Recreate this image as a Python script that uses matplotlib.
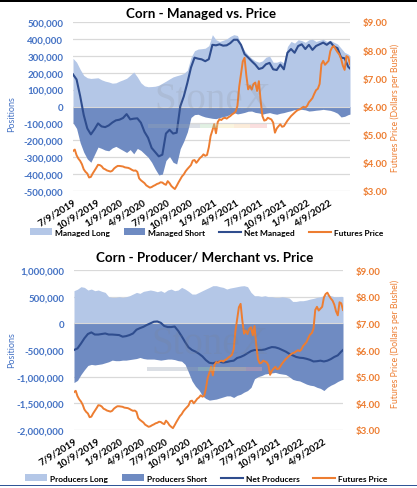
import matplotlib
matplotlib.use('Agg')
import matplotlib.pyplot as plt
from matplotlib.ticker import FuncFormatter, MultipleLocator
from matplotlib.patches import Patch, Rectangle
from matplotlib.lines import Line2D
import pandas as pd

plt.rcParams['font.family'] = ['Lato', 'DejaVu Sans']
plt.rcParams['font.weight'] = 'bold'

# weekly COT report dates, positions read every other week
weeks = pd.date_range('2019-07-09', '2022-06-28', freq='7D')
pos_dates = weeks[list(range(0, 156, 2)) + [155]]

tick_labels = ['7/9/2019', '10/9/2019', '1/9/2020', '4/9/2020', '7/9/2020', '10/9/2020',
               '1/9/2021', '4/9/2021', '7/9/2021', '10/9/2021', '1/9/2022', '4/9/2022']

# corn futures, $/bu
futures_price = [
    4.42, 4.47, 4.27, 4.15, 4.07, 3.95, 3.77, 3.68, 3.62, 3.48,
    3.50, 3.62, 3.72, 3.82, 3.93, 3.92, 3.88, 3.80, 3.77, 3.73,
    3.71, 3.69, 3.72, 3.80, 3.85, 3.89, 3.89, 3.88, 3.87, 3.84,
    3.83, 3.82, 3.79, 3.75, 3.72, 3.73, 3.68, 3.45, 3.38, 3.33,
    3.28, 3.20, 3.16, 3.12, 3.14, 3.18, 3.21, 3.25, 3.27, 3.31,
    3.30, 3.25, 3.22, 3.35, 3.28, 3.18, 3.12, 3.07, 3.18, 3.30,
    3.41, 3.52, 3.59, 3.70, 3.78, 3.85, 3.92, 4.08, 4.10, 4.00,
    4.08, 4.17, 4.22, 4.30, 4.25, 4.28, 4.55, 4.95, 5.15, 5.37,
    5.05, 5.45, 5.55, 5.52, 5.58, 5.60, 5.57, 5.62, 5.66, 5.72,
    5.76, 5.82, 6.02, 6.70, 7.15, 7.60, 7.73, 7.10, 6.61, 6.73,
    6.60, 6.80, 6.85, 6.55, 6.90, 6.20, 5.66, 5.50, 5.52, 5.60,
    5.57, 5.54, 5.43, 5.07, 5.22, 5.30, 5.37, 5.28, 5.30, 5.40,
    5.50, 5.58, 5.66, 5.72, 5.78, 5.84, 5.88, 5.90, 5.95, 5.99,
    5.96, 6.02, 6.15, 6.22, 6.30, 6.45, 6.58, 6.63, 6.80, 7.50,
    7.62, 7.48, 7.55, 7.62, 7.97, 8.10, 8.15, 8.03, 7.93, 7.85,
    7.70, 7.45, 7.30, 7.79, 7.75, 7.50]

# positions in thousands of contracts
managed_long = [
    285, 262, 220, 184, 170, 166, 168, 170, 158, 150,
    145, 138, 140, 150, 158, 167, 185, 204, 175, 140,
    122, 117, 118, 120, 126, 138, 150, 163, 175, 182,
    188, 196, 215, 290, 330, 340, 342, 345, 360, 425,
    395, 385, 392, 400, 415, 425, 420, 370, 330, 305,
    285, 270, 262, 270, 292, 298, 262, 262, 270, 258,
    355, 385, 375, 395, 390, 380, 395, 398, 385, 392,
    398, 385, 392, 380, 370, 345, 320, 310, 300]
managed_short = [
    -96, -130, -214, -270, -310, -330, -285, -240, -248, -258,
    -262, -245, -236, -248, -260, -272, -255, -280, -248, -260,
    -280, -300, -330, -370, -405, -400, -320, -295, -330, -340,
    -250, -205, -150, -65, -48, -46, -55, -62, -66, -70,
    -72, -66, -60, -56, -45, -36, -44, -40, -35, -28,
    -27, -35, -38, -45, -40, -36, -42, -46, -40, -36,
    -30, -25, -18, -17, -17, -20, -27, -25, -22, -20,
    -17, -20, -23, -30, -40, -62, -58, -48, -45]
net_managed = [
    190, 160, 62, -50, -130, -165, -135, -100, -118, -122,
    -112, -95, -82, -78, -68, -45, -76, -72, -70, -96,
    -150, -185, -245, -270, -295, -285, -160, -138, -160, -155,
    0, 60, 140, 230, 289, 283, 279, 268, 280, 365,
    362, 368, 360, 362, 375, 395, 395, 365, 310, 290,
    268, 248, 222, 228, 250, 258, 220, 216, 248, 220,
    318, 340, 318, 358, 368, 340, 365, 335, 358, 368,
    378, 365, 381, 355, 345, 290, 285, 235, 225]

producers_long = [
    612, 640, 687, 674, 625, 643, 612, 625, 600, 580,
    499, 487, 487, 499, 487, 499, 518, 549, 580, 562,
    600, 612, 625, 612, 593, 612, 580, 625, 643, 612,
    625, 674, 643, 600, 549, 549, 580, 612, 643, 674,
    706, 706, 687, 674, 643, 662, 674, 687, 700, 706,
    687, 580, 518, 518, 505, 518, 499, 499, 487, 487,
    499, 487, 474, 411, 411, 424, 424, 436, 455, 468,
    487, 499, 518, 537, 518, 499, 499, 505, 499]
producers_short = [
    -1110, -1070, -960, -870, -790, -770, -780, -770, -760, -740,
    -720, -690, -700, -700, -690, -690, -680, -670, -660, -640,
    -660, -670, -670, -670, -680, -690, -680, -670, -670, -680,
    -700, -710, -770, -920, -1080, -1180, -1250, -1360, -1410, -1440,
    -1430, -1420, -1400, -1380, -1360, -1360, -1390, -1350, -1330, -1290,
    -1260, -1200, -1040, -1000, -980, -950, -940, -930, -920, -940,
    -950, -960, -1000, -1050, -1070, -1080, -1110, -1140, -1160, -1170,
    -1200, -1220, -1260, -1200, -1160, -1130, -1090, -1060, -1050]
net_producers = [
    -500, -470, -380, -280, -200, -170, -210, -210, -200, -190,
    -210, -210, -215, -220, -250, -240, -220, -190, -120, -90,
    -65, -30, 0, 30, 35, 10, -50, -70, -70, -60,
    -140, -240, -350, -450, -500, -530, -570, -620, -690, -740,
    -750, -730, -720, -735, -725, -710, -700, -650, -630, -600,
    -560, -520, -500, -500, -500, -490, -465, -445, -450, -470,
    -500, -530, -570, -600, -630, -645, -650, -665, -685, -715,
    -710, -700, -715, -700, -670, -630, -600, -530, -500]

LIGHT = '#b4c7e7'
DARK = '#6f8bc2'
NET = '#2f4d8e'
ORANGE = '#ed7d31'
BLUE_TXT = '#4472c4'
GRID = '#d9d9d9'

fig = plt.figure(figsize=(4.17, 4.89), dpi=100)


def draw_chart(rect, longs, shorts, net, names, title, title_xy, ylim, ystep,
               legend_y, label_y):
    ax = fig.add_axes(rect)
    ax2 = ax.twinx()
    longs = [v * 1000 for v in longs]
    shorts = [v * 1000 for v in shorts]
    net = [v * 1000 for v in net]

    ax.fill_between(pos_dates, 0, longs, color=LIGHT, lw=0, zorder=2)
    ax.fill_between(pos_dates, shorts, 0, color=DARK, lw=0, zorder=2)
    ax.axhline(0, color=GRID, lw=0.8, zorder=3)
    ax.plot(pos_dates, net, color=NET, lw=1.5, zorder=4)
    ax2.plot(weeks, futures_price, color=ORANGE, lw=1.4)

    ax.set_ylim(*ylim)
    ax.yaxis.set_major_locator(MultipleLocator(ystep))
    ax.yaxis.set_major_formatter(FuncFormatter(lambda v, p: f'{v:,.0f}'))
    ax.grid(axis='y', color=GRID, lw=0.9)
    ax.set_axisbelow(True)
    ax2.set_ylim(3, 9)
    ax2.yaxis.set_major_locator(MultipleLocator(1))
    ax2.yaxis.set_major_formatter(FuncFormatter(lambda v, p: f'${v:.2f}'))

    ax.set_xlim(weeks[0], weeks[-1])
    ax.set_xticks(pd.to_datetime(tick_labels, format='%m/%d/%Y'))
    ax.set_xticklabels(tick_labels, rotation=32, ha='right', va='top',
                       rotation_mode='anchor', fontsize=7)
    ax.tick_params(axis='x', length=0, pad=4)
    ax.tick_params(axis='y', length=0, pad=7, labelsize=7, labelcolor=BLUE_TXT)
    ax2.tick_params(axis='y', length=0, pad=9, labelsize=7, labelcolor=ORANGE)
    for a in (ax, ax2):
        for s in a.spines.values():
            s.set_visible(False)

    # watermark
    ax2.text(0.505, 0.54, 'StoneX', transform=ax2.transAxes, ha='center', va='center',
             fontsize=28, family='Liberation Serif', fontweight='normal',
             color='#7f7f7f', alpha=0.15, zorder=6)
    band = [('#9aa5b5', 0.27, 0.19), ('#a9d4b0', 0.46, 0.06), ('#f3e3a6', 0.52, 0.06),
            ('#f5c996', 0.58, 0.06), ('#f2a5a5', 0.64, 0.06)]
    for c, x0, w in band:
        ax2.add_patch(Rectangle((x0, 0.37), w, 0.025, transform=ax2.transAxes,
                                color=c, alpha=0.35, lw=0, zorder=6))

    fig.text(title_xy[0], title_xy[1], title, ha='center', va='center', fontsize=9.6)
    fig.text(12 / 417, label_y, 'Positions', rotation=90, ha='center', va='center',
             fontsize=6.5, fontweight='normal', color=BLUE_TXT)
    fig.text(395 / 417, label_y + 0.013, 'Futures Price (Dollars per Bushel)', rotation=90,
             ha='center', va='center', fontsize=6.3, fontweight='normal', color=ORANGE)

    handles = [Patch(color=LIGHT, lw=0), Patch(color=DARK, lw=0),
               Line2D([], [], color=NET, lw=1.5), Line2D([], [], color=ORANGE, lw=1.5)]
    fig.legend(handles, names, loc='center', bbox_to_anchor=(0.495, legend_y), ncol=4,
               frameon=False, prop={'weight': 'bold', 'size': 6}, handlelength=2.6,
               handleheight=0.9, handletextpad=0.35, columnspacing=1.7)


draw_chart([73 / 417, 1 - 192 / 489, 277 / 417, 169 / 489],
           managed_long, managed_short, net_managed,
           ['Managed Long', 'Managed Short', 'Net Managed', 'Futures Price'],
           'Corn - Managed vs. Price', (0.483, 1 - 14 / 489),
           (-500000, 500000), 100000, 1 - 233 / 489, 1 - 114 / 489)

draw_chart([74 / 417, 1 - 431 / 489, 269 / 417, 160 / 489],
           producers_long, producers_short, net_producers,
           ['Producers Long', 'Producers Short', 'Net Producers', 'Futures Price'],
           'Corn - Producer/ Merchant vs. Price', (0.491, 1 - 257 / 489),
           (-2000000, 1000000), 500000, 1 - 479 / 489, 1 - 350 / 489)

# frame lines at top and bottom of the page
fig.patches.append(Rectangle((0, 1 - 2.5 / 489), 1, 2.5 / 489, transform=fig.transFigure,
                             color='black', lw=0))
fig.patches.append(Rectangle((0, 2 / 489), 1, 1.5 / 489, transform=fig.transFigure,
                             color='#2f5597', lw=0))

fig.savefig('out.png', dpi=100)
